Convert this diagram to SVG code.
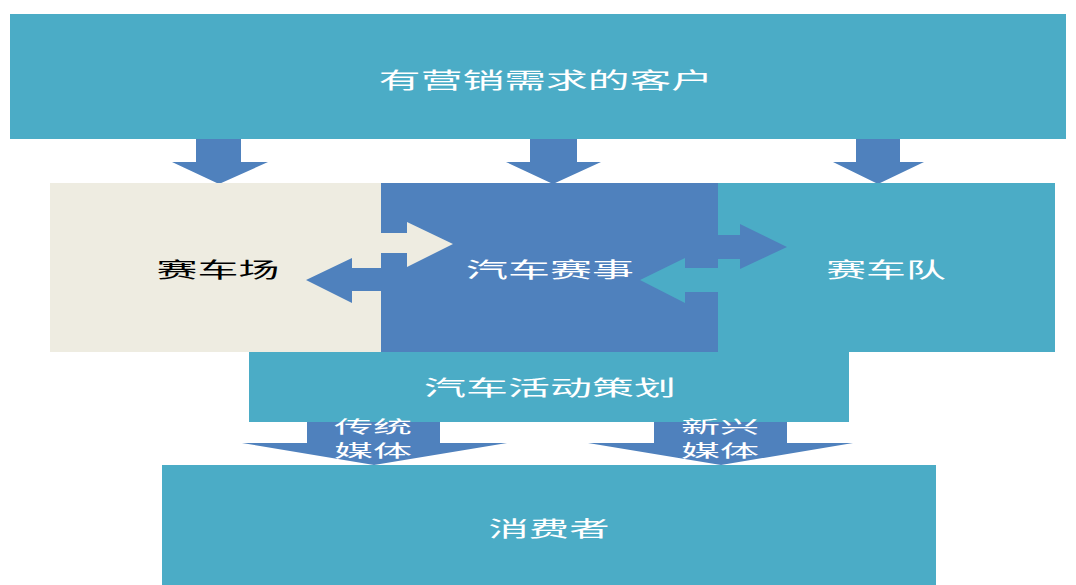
<svg xmlns="http://www.w3.org/2000/svg" width="1076" height="585" viewBox="0 0 1076 585">
<style>
.teal{fill:#4BACC6}
.blue{fill:#4F81BD}
.beige{fill:#EEECE1}
.t{font-family:"Noto Sans CJK SC","Noto Sans",sans-serif;font-size:21px;fill:#fff;text-anchor:middle;dominant-baseline:central}
.dark{fill:#000}
</style>
<rect width="1076" height="585" fill="#fff"/>
<g id="connectors">
  <polygon class="blue" points="196,138 241,138 241,162 268,162 219,184 172,162 196,162"/>
  <polygon class="blue" points="530,138 577,138 577,162 601,162 553,184 506,162 530,162"/>
  <polygon class="blue" points="856,138 900,138 900,162 924,162 878,184 833,162 856,162"/>
</g>
<g id="node-track">
  <rect class="beige" x="50" y="183" width="331" height="169"/>
</g>
<g id="node-event">
  <rect class="blue" x="381" y="183" width="337" height="169"/>
</g>
<g id="node-team">
  <rect class="teal" x="718" y="183" width="337" height="169"/>
</g>
<g id="connectors-mid">
  <polygon class="beige" points="381,233 407,233 407,222 453,244 407,267 407,253 381,253"/>
  <polygon class="blue" points="381,268 352,268 352,258 306,280 352,303 352,291 381,291"/>
  <polygon class="blue" points="718,235 740,235 740,224 787,247 740,269 740,259 718,259"/>
  <polygon class="teal" points="718,268 685,268 685,258 640,280 685,303 685,292 718,292"/>
</g>
<g id="node-client">
  <rect class="teal" x="10" y="14" width="1056" height="125"/>
  <text class="t" transform="translate(546,78) scale(1.9,1)" style="font-size:22px">有营销需求的客户</text>
</g>
<text class="t dark" transform="translate(218,268) scale(1.95,1)">赛车场</text>
<text class="t" transform="translate(550,268) scale(2,1)">汽车赛事</text>
<text class="t" transform="translate(886,268) scale(1.9,1)">赛车队</text>
<g id="connectors-bottom">
  <polygon class="blue" points="307,418 440,418 440,443 507,443 374,465 242,443 307,443"/>
  <polygon class="blue" points="654,418 787,418 787,443 853,443 721,465 588,443 654,443"/>
</g>
<g id="node-plan">
  <rect class="teal" x="249" y="352" width="600" height="70"/>
  <text class="t" transform="translate(550,386) scale(2,1)">汽车活动策划</text>
</g>
<g id="labels-media">
  <text class="t" transform="translate(373,426) scale(2.3,1)" style="font-size:17px">传统</text>
  <text class="t" transform="translate(373,450) scale(2.3,1)" style="font-size:17px">媒体</text>
  <text class="t" transform="translate(720,426) scale(2.3,1)" style="font-size:17px">新兴</text>
  <text class="t" transform="translate(720,450) scale(2.3,1)" style="font-size:17px">媒体</text>
</g>
<g id="node-consumer">
  <rect class="teal" x="162" y="465" width="774" height="120"/>
  <text class="t" transform="translate(549,527) scale(1.92,1)">消费者</text>
</g>
</svg>
